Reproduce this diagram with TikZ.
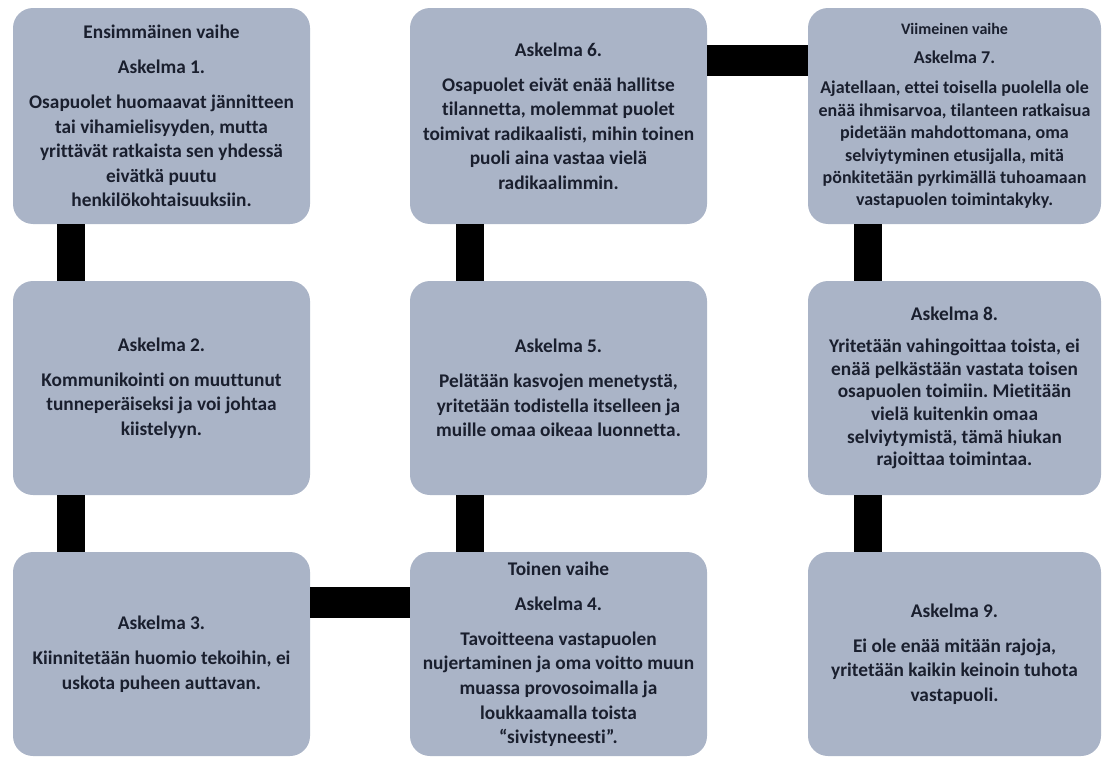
\documentclass[tikz,border=0pt]{standalone}
\usepackage{fontspec}
\setmainfont{Carlito}[Ligatures=NoCommon]
\definecolor{boxfill}{HTML}{AAB4C7}
\definecolor{txt}{HTML}{1A1F2E}
\frenchspacing
\begin{document}
\begin{tikzpicture}[x=0.75pt,y=-0.75pt,
  box/.style={fill=boxfill, rounded corners=15pt, minimum width=222.75pt,
    inner sep=0pt, align=center, text=txt,
    font=\bfseries\fontsize{14.5}{18.4}\selectfont},
  smallbox/.style={box, font=\bfseries\fontsize{13.5}{16.8}\selectfont},
  vbar/.style={line width=21pt, draw=black},
  hbar/.style={line width=23pt, draw=black}]
\useasboundingbox (0,0) rectangle (1104,760);

% column 1
\node[box, minimum height=162pt] (b1) at (161.5,116)
  {Ensimmäinen vaihe\\[8pt]Askelma 1.\\[8pt]Osapuolet huomaavat jännitteen\\tai vihamielisyyden, mutta\\yrittävät ratkaista sen yhdessä\\eivätkä puutu\\henkilökohtaisuuksiin.};
\node[box, minimum height=160.5pt] (b2) at (161.5,388)
  {Askelma 2.\\[8pt]Kommunikointi on muuttunut\\tunneperäiseksi ja voi johtaa\\kiistelyyn.};
\node[box, minimum height=153pt] (b3) at (161.5,654)
  {Askelma 3.\\[8pt]Kiinnitetään huomio tekoihin, ei\\uskota puheen auttavan.};

% column 2
\node[box, minimum height=162pt] (b6) at (558.5,116)
  {Askelma 6.\\[8pt]Osapuolet eivät enää hallitse\\tilannetta, molemmat puolet\\toimivat radikaalisti, mihin toinen\\puoli aina vastaa vielä\\radikaalimmin.};
\node[box, minimum height=160.5pt] (b5) at (558.5,388)
  {Askelma 5.\\[8pt]Pelätään kasvojen menetystä,\\yritetään todistella itselleen ja\\muille omaa oikeaa luonnetta.};
\node[box, minimum height=153pt] (b4) at (558.5,654)
  {Toinen vaihe\\[8pt]Askelma 4.\\[8pt]Tavoitteena vastapuolen\\nujertaminen ja oma voitto muun\\muassa provosoimalla ja\\loukkaamalla toista\\“sivistyneesti”.};

% column 3
\node[smallbox, minimum width=219.75pt, minimum height=162pt] (b7) at (954.5,116)
  {{\fontsize{12}{14}\selectfont Viimeinen vaihe}\\[5pt]{\fontsize{13.5}{16}\selectfont Askelma 7.}\\[6pt]Ajatellaan, ettei toisella puolella ole\\enää ihmisarvoa, tilanteen ratkaisua\\pidetään mahdottomana, oma\\selviytyminen etusijalla, mitä\\pönkitetään pyrkimällä tuhoamaan\\vastapuolen toimintakyky.};
\node[box, font=\bfseries\fontsize{14.5}{17}\selectfont, minimum width=219.75pt, minimum height=160.5pt] (b8) at (954.5,388)
  {Askelma 8.\\[7pt]Yritetään vahingoittaa toista, ei\\enää pelkästään vastata toisen\\osapuolen toimiin. Mietitään\\vielä kuitenkin omaa\\selviytymistä, tämä hiukan\\rajoittaa toimintaa.};
\node[box, minimum width=219.75pt, minimum height=153pt] (b9) at (954.5,654)
  {Askelma 9.\\[8pt]Ei ole enää mitään rajoja,\\yritetään kaikin keinoin tuhota\\vastapuoli.};

% connectors
\draw[vbar] ([xshift=-67.9pt]b1.south) -- ([xshift=-67.9pt]b2.north);
\draw[vbar] ([xshift=-67.9pt]b2.south) -- ([xshift=-67.9pt]b3.north);
\draw[hbar] ([yshift=38.6pt]b3.east) -- ([yshift=38.6pt]b4.west);
\draw[vbar] ([xshift=-66.4pt]b4.north) -- ([xshift=-66.4pt]b5.south);
\draw[vbar] ([xshift=-66.4pt]b5.north) -- ([xshift=-66.4pt]b6.south);
\draw[hbar] ([yshift=41.6pt]b6.east) -- ([yshift=41.6pt]b7.west);
\draw[vbar] ([xshift=-65.25pt]b7.south) -- ([xshift=-65.25pt]b8.north);
\draw[vbar] ([xshift=-65.25pt]b8.south) -- ([xshift=-65.25pt]b9.north);
\end{tikzpicture}
\end{document}
